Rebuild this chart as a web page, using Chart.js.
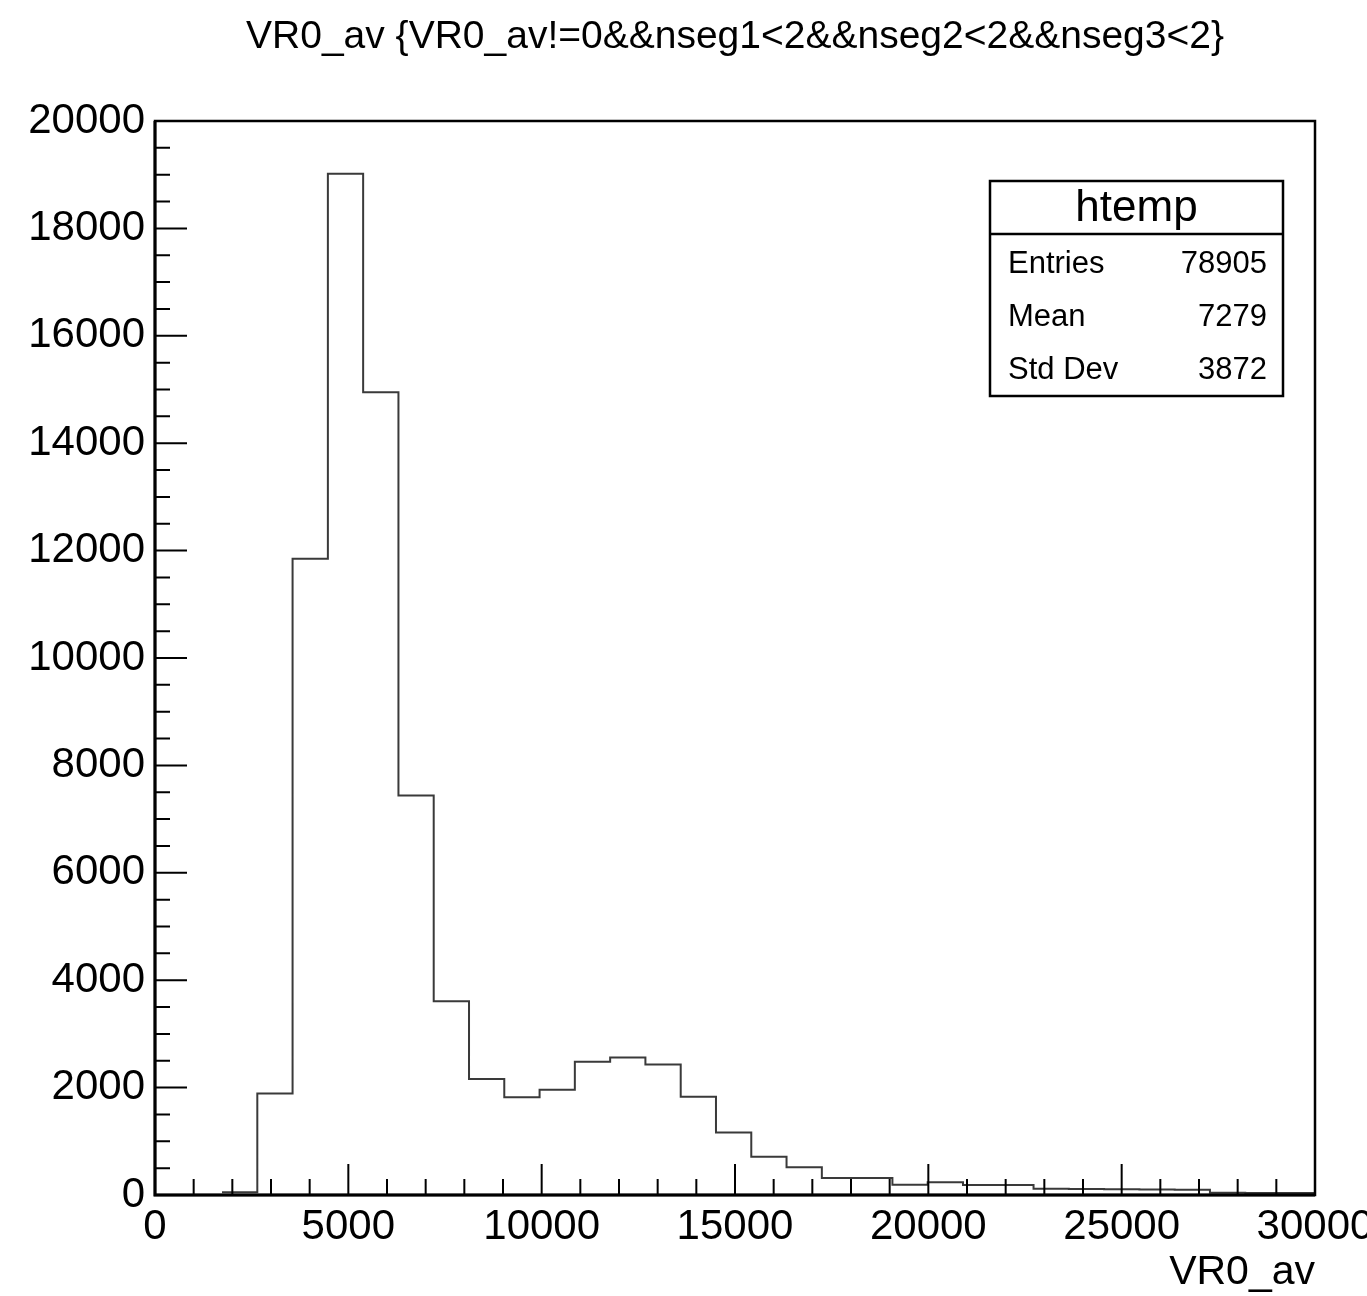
<!DOCTYPE html>
<html>
<head>
<meta charset="utf-8">
<script src="https://cdn.jsdelivr.net/npm/chart.js@4.4.1/dist/chart.umd.min.js"></script>
<style>
  html, body { margin: 0; padding: 0; background: #ffffff; }
  canvas { display: block; }
</style>
</head>
<body>
<canvas id="c" width="1367" height="1296"></canvas>
<script>
// ---- Data ----
const chartTitle = "VR0_av {VR0_av!=0&&nseg1<2&&nseg2<2&&nseg3<2}";
const xAxisTitle = "VR0_av";

// low edges of the histogram bins (VR0_av units); last entry is the upper edge of the last bin
const binLowEdges = [1733, 2646, 3558, 4471, 5383, 6296, 7208, 8121, 9033, 9946,
  10858, 11771, 12683, 13596, 14508, 15421, 16333, 17246, 18158, 19071,
  19983, 20896, 21808, 22721, 23633, 24546, 25458, 26371, 27283, 28196,
  29108, 30021];

// bin contents
const binCounts = [50, 1890, 11850, 19020, 14950, 7440, 3610, 2160, 1820, 1960,
  2480, 2560, 2430, 1830, 1165, 714, 515, 315, 315, 192,
  236, 186, 186, 118, 112, 108, 104, 100, 40, 38,
  35];

const xTickValues = [0, 5000, 10000, 15000, 20000, 25000, 30000];
const yTickValues = [0, 2000, 4000, 6000, 8000, 10000, 12000, 14000, 16000, 18000, 20000];

const statsName = "htemp";
const statsLabels = ["Entries", "Mean", "Std Dev"];
const statsValues = ["78905", "7279", "3872"];

// ---- Build step points ----
const stepPoints = binCounts.map((c, i) => ({ x: binLowEdges[i], y: c }));
stepPoints.push({ x: binLowEdges[binLowEdges.length - 1], y: binCounts[binCounts.length - 1] });

const FONT = '"Liberation Sans", Arial, Helvetica, sans-serif';

const rootPlugin = {
  id: 'rootStyle',
  afterDatasetsDraw(chart) {
    const { ctx, chartArea: a, scales } = chart;
    const xs = scales.x, ys = scales.y;
    ctx.save();
    ctx.strokeStyle = '#000';
    ctx.lineCap = 'butt';
    // inward ticks
    ctx.lineWidth = 2;
    ctx.beginPath();
    for (let v = 0; v <= xs.max; v += 1000) {
      const px = xs.getPixelForValue(v);
      const len = (v % 5000 === 0) ? 31 : 16;
      ctx.moveTo(px, a.bottom);
      ctx.lineTo(px, a.bottom - len);
    }
    for (let v = 0; v <= ys.max; v += 500) {
      const py = ys.getPixelForValue(v);
      const len = (v % 2000 === 0) ? 32 : 15;
      ctx.moveTo(a.left, py);
      ctx.lineTo(a.left + len, py);
    }
    ctx.stroke();
    // frame
    ctx.lineWidth = 2.5;
    ctx.strokeRect(a.left, a.top, a.right - a.left, a.bottom - a.top);
    ctx.lineWidth = 3;
    ctx.beginPath();
    ctx.moveTo(a.left, a.top); ctx.lineTo(a.left, a.bottom); ctx.lineTo(a.right, a.bottom);
    ctx.stroke();

    // title
    ctx.fillStyle = '#000';
    ctx.font = '39px ' + FONT;
    ctx.textAlign = 'center';
    ctx.textBaseline = 'alphabetic';
    ctx.fillText(chartTitle, 735, 48);

    // x axis title
    ctx.font = '41px ' + FONT;
    ctx.textAlign = 'right';
    ctx.fillText(xAxisTitle, a.right, 1284);

    // stats box
    const bx = 990, by = 181, bw = 293, bh = 215, hy = 234;
    ctx.fillStyle = '#fff';
    ctx.fillRect(bx, by, bw, bh);
    ctx.lineWidth = 2.5;
    ctx.strokeRect(bx, by, bw, bh);
    ctx.beginPath();
    ctx.moveTo(bx, hy); ctx.lineTo(bx + bw, hy);
    ctx.stroke();
    ctx.fillStyle = '#000';
    ctx.font = '44px ' + FONT;
    ctx.textAlign = 'center';
    ctx.fillText(statsName, bx + bw / 2, 221);
    ctx.font = '31px ' + FONT;
    const rowsY = [273, 326, 379];
    statsLabels.forEach((lab, i) => {
      ctx.textAlign = 'left';
      ctx.fillText(lab, 1008, rowsY[i]);
      ctx.textAlign = 'right';
      ctx.fillText(statsValues[i], 1267, rowsY[i]);
    });
    ctx.restore();
  }
};

new Chart(document.getElementById('c'), {
  type: 'line',
  data: {
    datasets: [{
      data: stepPoints,
      stepped: 'before',
      borderColor: '#3a3a3a',
      borderWidth: 2,
      pointRadius: 0,
      fill: false,
      tension: 0
    }]
  },
  options: {
    responsive: false,
    animation: false,
    events: [],
    layout: { padding: { top: 121, right: 52, left: 0, bottom: 0 } },
    plugins: {
      legend: { display: false },
      title: { display: false },
      tooltip: { enabled: false }
    },
    scales: {
      x: {
        type: 'linear',
        min: 0, max: 30000,
        grid: { display: false, drawTicks: false },
        border: { display: false },
        afterBuildTicks: (s) => { s.ticks = xTickValues.map(v => ({ value: v })); },
        ticks: {
          color: '#000',
          font: { size: 42, family: FONT },
          padding: 7,
          maxRotation: 0,
          autoSkip: false,
          callback: (v) => String(v)
        },
        afterFit: (s) => { s.height = 101; s.paddingRight = 0; s.paddingLeft = 0; }
      },
      y: {
        type: 'linear',
        min: 0, max: 20000,
        grid: { display: false, drawTicks: false },
        border: { display: false },
        afterBuildTicks: (s) => { s.ticks = yTickValues.map(v => ({ value: v })); },
        ticks: {
          color: '#000',
          font: { size: 42, family: FONT },
          padding: 10,
          autoSkip: false,
          callback: (v) => String(v)
        },
        afterFit: (s) => { s.width = 155; s.paddingTop = 0; s.paddingBottom = 0; }
      }
    }
  },
  plugins: [rootPlugin]
});
</script>
</body>
</html>
